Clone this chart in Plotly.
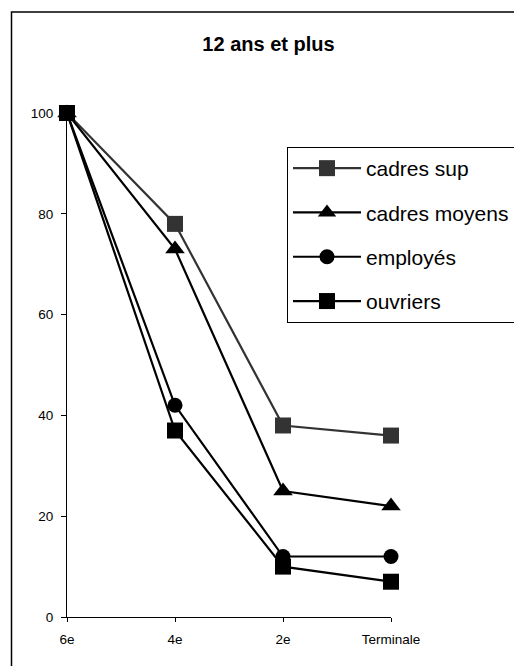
import plotly.graph_objects as go

# Niveaux scolaires (axe des x) et pourcentages par catégorie sociale
niveaux = ["6e", "4e", "2e", "Terminale"]
cadres_sup = [100, 78, 38, 36]
cadres_moyens = [100, 73, 25, 22]
employes = [100, 42, 12, 12]
ouvriers = [100, 37, 10, 7]
y_ticks = [0, 20, 40, 60, 80, 100]

FONT = "Liberation Sans, Arial, sans-serif"

W, H = 514, 666
L, R, T, B = 67, 123, 113, 49
pw, ph = W - L - R, H - T - B


def px_x(x):
    return (x - L) / pw


def px_y(y):
    return (H - B - y) / ph


series = [
    ("cadres sup", cadres_sup, "#333333", "square", 16),
    ("cadres moyens", cadres_moyens, "#000000", "triangle-up", 17),
    ("employés", employes, "#000000", "circle", 15),
    ("ouvriers", ouvriers, "#000000", "square", 16),
]

fig = go.Figure()
for i, (name, vals, color, sym, size) in enumerate(series):
    fig.add_trace(go.Scatter(
        x=niveaux, y=vals, name=name, mode="lines+markers",
        legendgroup=f"g{i}",
        line=dict(color=color, width=2.2),
        marker=dict(symbol=sym, size=size, color=color, line=dict(width=0)),
        cliponaxis=False,
    ))

# Cadre extérieur du graphique
fig.add_shape(type="rect", xref="paper", yref="paper",
              x0=px_x(11.5), x1=px_x(530), y0=px_y(680), y1=px_y(12),
              line=dict(color="black", width=1.5), layer="below")

fig.update_layout(
    width=W, height=H,
    margin=dict(l=L, r=R, t=T, b=B, autoexpand=False),
    paper_bgcolor="white", plot_bgcolor="white",
    font=dict(family=FONT, size=13, color="black"),
    title=dict(text="<b>12 ans et plus</b>", font=dict(size=20, family=FONT, color="black"),
               xref="paper", x=px_x(268.5), xanchor="center",
               yref="container", y=1 - 44 / H, yanchor="middle"),
    showlegend=True,
    legend=dict(
        x=px_x(287), y=px_y(147), xanchor="left", yanchor="top",
        bgcolor="white", bordercolor="black", borderwidth=1,
        font=dict(size=21, family=FONT, color="black"),
        tracegroupgap=14, itemwidth=68,
    ),
    xaxis=dict(
        type="category", range=[0, 3], showgrid=False, zeroline=False,
        showline=True, linecolor="black", linewidth=1,
        ticks="outside", ticklen=4, tickcolor="black",
        tickfont=dict(size=13.5, family=FONT), ticklabelstandoff=6,
    ),
    yaxis=dict(
        range=[0, 100], tickvals=y_ticks, showgrid=False, zeroline=False,
        showline=True, linecolor="black", linewidth=1,
        ticks="outside", ticklen=5, tickcolor="black",
        tickfont=dict(size=13.5, family=FONT), ticklabelstandoff=5,
    ),
)

fig.write_html("out.html")
